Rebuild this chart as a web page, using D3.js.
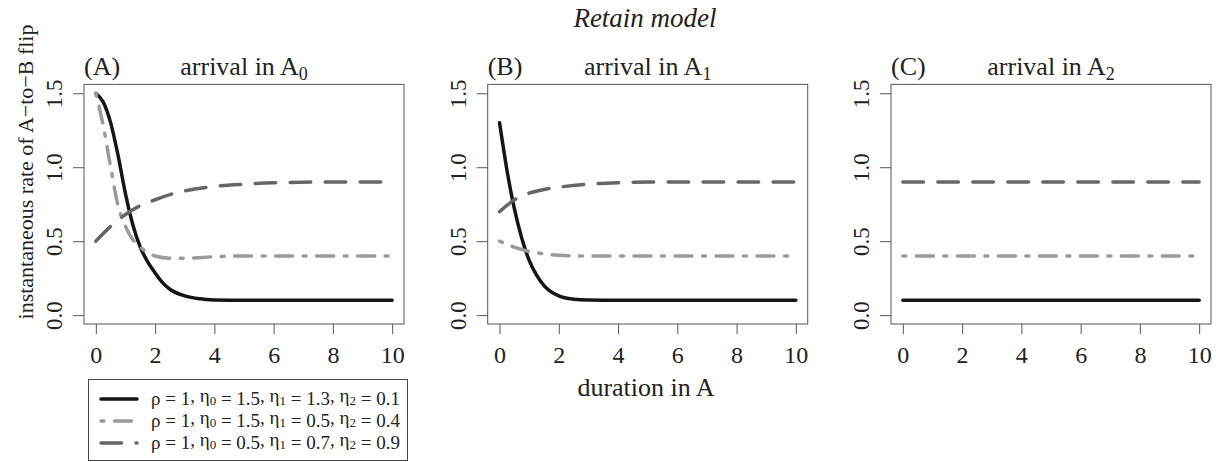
<!DOCTYPE html>
<html>
<head>
<meta charset="utf-8">
<script src="https://cdn.jsdelivr.net/npm/d3@7"></script>
<style>
  body { margin: 0; background: #fff; }
  svg, svg text { font-family: "Liberation Serif", "Times New Roman", serif; }
  .tick line { stroke: #555; }
</style>
</head>
<body>
<div id="plot"></div>
<script>
// parameter sets, one per line
const rho = [1, 1, 1],
      eta0 = [1.5, 1.5, 0.5],
      eta1 = [1.3, 0.5, 0.7],
      eta2 = [0.1, 0.4, 0.9],
      xTicks = [0, 2, 4, 6, 8, 10],
      yTicks = [0, 0.5, 1, 1.5],
      panelTags = ["(A)", "(B)", "(C)"],
      panelSubs = ["0", "1", "2"]

// values
const a1x = [0, 0.25, 0.5, 0.75, 1, 1.25, 1.5, 1.75, 2, 2.25, 2.5, 3, 3.5, 4, 5, 10],
      a1y = [1.5, 1.44, 1.3, 1.08, 0.82, 0.61, 0.46, 0.36, 0.285, 0.22, 0.175, 0.13, 0.11, 0.103, 0.1, 0.1],
      a2x = [0, 0.25, 0.5, 0.75, 1, 1.25, 1.5, 2, 2.5, 3, 4, 5, 10],
      a2y = [1.5, 1.28, 1.0, 0.74, 0.6, 0.51, 0.46, 0.4, 0.385, 0.385, 0.395, 0.4, 0.4],
      a3x = [0, 0.5, 1, 1.5, 2, 2.5, 3, 4, 5, 6, 8, 10],
      a3y = [0.5, 0.6, 0.68, 0.74, 0.78, 0.815, 0.84, 0.87, 0.885, 0.895, 0.9, 0.9]

const b1x = [0, 0.25, 0.5, 0.75, 1, 1.25, 1.5, 2, 2.5, 3, 4, 10],
      b1y = [1.3, 0.98, 0.72, 0.52, 0.37, 0.27, 0.2, 0.13, 0.108, 0.102, 0.1, 0.1],
      b2x = [0, 0.5, 1, 1.5, 2, 3, 4, 10],
      b2y = [0.5, 0.46, 0.43, 0.415, 0.405, 0.4, 0.4, 0.4],
      b3x = [0, 0.5, 1, 1.5, 2, 3, 4, 5, 10],
      b3y = [0.7, 0.78, 0.825, 0.85, 0.865, 0.885, 0.895, 0.9, 0.9]

const c1x = [0, 10], c1y = [0.1, 0.1],
      c2x = [0, 10], c2y = [0.4, 0.4],
      c3x = [0, 10], c3y = [0.9, 0.9]

const panels = [
  [[a1x, a1y], [a2x, a2y], [a3x, a3y]],
  [[b1x, b1y], [b2x, b2y], [b3x, b3y]],
  [[c1x, c1y], [c2x, c2y], [c3x, c3y]]
]

const w = 1216, h = 462,
      lefts = [84, 487.7, 891],
      pw = 320,
      plotTop = 84.4, plotBottom = 324,
      colors = ["#151515", "#9a9a9a", "#666"],
      dashes = [null, "3,10.5,17,10.5", "20.5,14.5"],
      lw = 3.5,
      ink = "#222"

const svg = d3.select("#plot").append("svg")
  .attr("width", w)
  .attr("height", h)

const y = d3.scaleLinear().domain([-0.06, 1.56]).range([plotBottom, plotTop])
const yFmt = d3.format(".1f")

panels.forEach((series, p) => {
  const x = d3.scaleLinear().domain([-0.4, 10.4]).range([lefts[p], lefts[p] + pw])
  const g = svg.append("g")

  // x axis: ticks from d3, labels redrawn as plain serif text
  const gx = g.append("g")
    .attr("transform", `translate(0,${plotBottom})`)
    .call(d3.axisBottom(x).tickValues(xTicks).tickSize(10).tickSizeOuter(0))
  gx.select(".domain").remove()
  gx.selectAll(".tick text").remove()
  gx.selectAll(".tick").append("text")
    .attr("x", 0).attr("y", 38.5)
    .attr("text-anchor", "middle")
    .attr("fill", ink)
    .style("font-size", "24px")
    .text(d => d)

  // y axis
  const gy = g.append("g")
    .attr("transform", `translate(${lefts[p]},0)`)
    .call(d3.axisLeft(y).tickValues(yTicks).tickSize(11).tickSizeOuter(0))
  gy.select(".domain").remove()
  gy.selectAll(".tick text").remove()
  gy.selectAll(".tick").append("text")
    .attr("text-anchor", "middle")
    .attr("transform", "translate(-22,0) rotate(-90)")
    .attr("fill", ink)
    .style("font-size", "23px")
    .text(d => yFmt(d))

  // lines
  series.forEach((s, i) => {
    const pts = s[0].map((v, k) => [v, s[1][k]])
    g.append("path")
      .datum(pts)
      .attr("fill", "none")
      .attr("stroke", colors[i])
      .attr("stroke-width", lw)
      .attr("stroke-linecap", "round")
      .attr("stroke-dasharray", dashes[i])
      .attr("d", d3.line()
        .x(d => x(d[0]))
        .y(d => y(d[1]))
        .curve(d3.curveMonotoneX))
  })

  // box
  g.append("rect")
    .attr("x", lefts[p]).attr("y", plotTop)
    .attr("width", pw).attr("height", plotBottom - plotTop)
    .attr("fill", "none")
    .attr("stroke", "#555")
    .attr("stroke-width", 1)

  // panel titles
  g.append("text")
    .attr("x", lefts[p])
    .attr("y", 75)
    .style("font-size", "26px")
    .attr("fill", ink)
    .text(panelTags[p])

  const t = g.append("text")
    .attr("x", lefts[p] + pw / 2)
    .attr("y", 75)
    .attr("text-anchor", "middle")
    .style("font-size", "26px")
    .attr("fill", ink)
  t.append("tspan").text("arrival in A")
  t.append("tspan").attr("dy", 5).style("font-size", "18px").text(panelSubs[p])
})

// main title
svg.append("text")
  .attr("x", 645).attr("y", 27)
  .attr("text-anchor", "middle")
  .style("font-size", "27px")
  .style("font-style", "italic")
  .attr("fill", ink)
  .text("Retain model")

// axis labels
svg.append("text")
  .attr("x", 646).attr("y", 396)
  .attr("text-anchor", "middle")
  .style("font-size", "26px")
  .attr("fill", ink)
  .text("duration in A")

svg.append("text")
  .attr("transform", "translate(33,172) rotate(-90)")
  .attr("text-anchor", "middle")
  .style("font-size", "22px")
  .attr("fill", ink)
  .text("instantaneous rate of A\u2212to\u2212B flip")

// legend
const lg = svg.append("g")
lg.append("rect")
  .attr("x", 88.5).attr("y", 379.5)
  .attr("width", 319).attr("height", 81)
  .attr("fill", "#fff")
  .attr("stroke", "#444")
  .attr("stroke-width", 1)

const fmt = v => Number.isInteger(v) ? v : v.toFixed(1)
rho.forEach((r, i) => {
  const ly = 399 + i * 22
  lg.append("line")
    .attr("x1", 101).attr("x2", 137)
    .attr("y1", ly).attr("y2", ly)
    .attr("stroke", colors[i])
    .attr("stroke-width", lw)
    .attr("stroke-linecap", "round")
    .attr("stroke-dasharray", dashes[i])
  const tx = lg.append("text")
    .attr("x", 151).attr("y", ly + 6)
    .style("font-size", "19px")
    .attr("fill", ink)
  const parts = [["\u03c1", null, r], ["\u03b7", "0", eta0[i]], ["\u03b7", "1", eta1[i]], ["\u03b7", "2", eta2[i]]]
  parts.forEach((pt, k) => {
    tx.append("tspan").attr("dy", k === 0 ? 0 : -3).text((k ? ", " : "") + pt[0])
    if (pt[1]) tx.append("tspan").attr("dy", 3).style("font-size", "13px").text(pt[1])
    else tx.append("tspan").attr("dy", 3).text("")
    tx.append("tspan").text(" = " + fmt(pt[2]))
  })
})
</script>
</body>
</html>
